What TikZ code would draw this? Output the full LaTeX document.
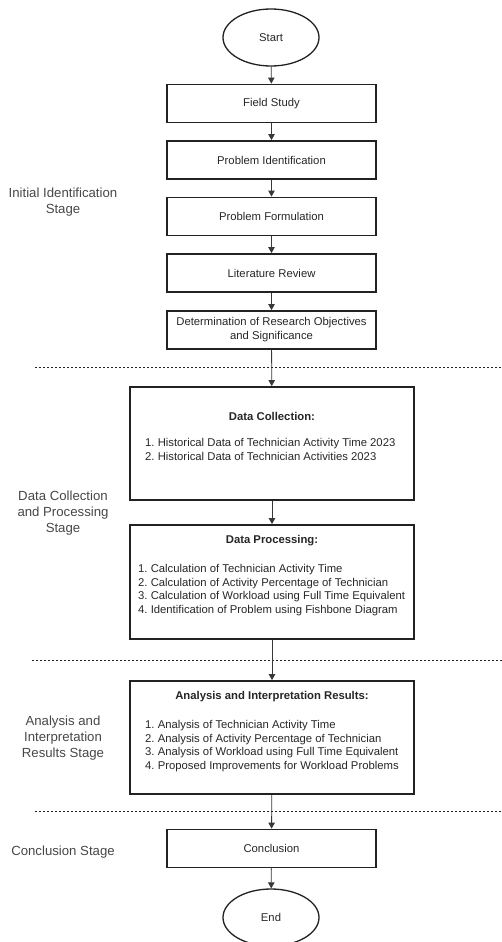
\documentclass[tikz,border=0pt]{standalone}
\usepackage{fontspec}
\setmainfont{Liberation Sans}
\usetikzlibrary{shapes.geometric,arrows.meta}
\definecolor{txt}{HTML}{262626}
\definecolor{edge}{HTML}{222222}
\tikzset{
  proc/.style={draw=edge,line width=1.8pt,minimum width=209pt,minimum height=38pt,inner sep=0pt,font=\fontsize{11.3}{14}\selectfont,text=txt,align=center},
  bigbox/.style={draw=edge,line width=1.8pt,minimum width=284pt,minimum height=113pt,inner sep=0pt},
  term/.style={draw=edge,line width=1.3pt,ellipse,minimum width=96pt,minimum height=57pt,inner sep=0pt,font=\fontsize{11.3}{14}\selectfont,text=txt},
  ttl/.style={font=\bfseries\fontsize{11.3}{14}\selectfont,text=txt,inner sep=0pt},
  items/.style={font=\fontsize{11.3}{13.8}\selectfont,text=txt,align=left,anchor=north west,inner sep=0pt},
  stage/.style={font=\fontsize{13.2}{16}\selectfont,text=txt!85,align=center,inner sep=0pt},
  flow/.style={draw=edge!90,line width=0.8pt,-{Triangle[width=6.5pt,length=6pt]}},
  sep/.style={draw=edge,line width=0.6pt,dash pattern=on 2.2pt off 1.8pt}
}
\begin{document}
\begin{tikzpicture}[x=1pt,y=-1pt]
\useasboundingbox (0,0) rectangle (502,942);
\clip (0,0) rectangle (502,942);
% nodes
\node[term] (start) at (271,37.5) {Start};
\node[proc] (field) at (271.5,103.5) {Field Study};
\node[proc] (pid) at (271.5,160) {Problem Identification};
\node[proc] (pform) at (271.5,216.5) {Problem Formulation};
\node[proc] (lit) at (271.5,273) {Literature Review};
\node[proc] (det) at (271.5,330) {Determination of Research Objectives\\and Significance};
\node[bigbox] (dc) at (272,443.5) {};
\node[ttl] (dct) at (272,416) {Data Collection:};
\node[items] (dci) at (145,438) {1.\ Historical Data of Technician Activity Time 2023\\2.\ Historical Data of Technician Activities 2023};
\node[bigbox,minimum height=114pt] (dp) at (272,582) {};
\node[ttl] (dpt) at (272,541) {Data Processing:};
\node[items] (dpi) at (138,564) {1.\ Calculation of Technician Activity Time\\2.\ Calculation of Activity Percentage of Technician\\3.\ Calculation of Workload using Full Time Equivalent\\4.\ Identification of Problem using Fishbone Diagram};
\node[bigbox] (an) at (272,737.5) {};
\node[ttl] (ant) at (272,697) {Analysis and Interpretation Results:};
\node[items] (ani) at (145,720) {1.\ Analysis of Technician Activity Time\\2.\ Analysis of Activity Percentage of Technician\\3.\ Analysis of Workload using Full Time Equivalent\\4.\ Proposed Improvements for Workload Problems};
\node[proc] (conc) at (271.5,848.5) {Conclusion};
\node[term] (end) at (271,917.5) {End};
% stage labels
\node[stage] (s1) at (63,202.5) {Initial Identification\\Stage};
\node[stage] (s2) at (63,513) {Data Collection\\and Processing\\Stage};
\node[stage] (s3) at (63,738) {Analysis and\\Interpretation\\Results Stage};
\node[stage] (s4) at (63,852) {Conclusion Stage};
% separators
\coordinate (d1a) at (35,367); \coordinate (d1b) at (502,367);
\coordinate (d2a) at (32,660); \coordinate (d2b) at (502,660);
\coordinate (d3a) at (35,811); \coordinate (d3b) at (502,811);
\draw[sep] (d1a) -- (d1b);
\draw[sep] (d2a) -- (d2b);
\draw[sep] (d3a) -- (d3b);
% flow
\draw[flow] (start) -- (field);
\draw[flow] (field) -- (pid);
\draw[flow] (pid) -- (pform);
\draw[flow] (pform) -- (lit);
\draw[flow] (lit) -- (det);
\draw[flow] (det) -- (dc);
\draw[flow] (dc) -- (dp);
\draw[flow] (dp) -- (an);
\draw[flow] (an) -- (conc);
\draw[flow] (conc) -- (end);
\end{tikzpicture}
\end{document}
